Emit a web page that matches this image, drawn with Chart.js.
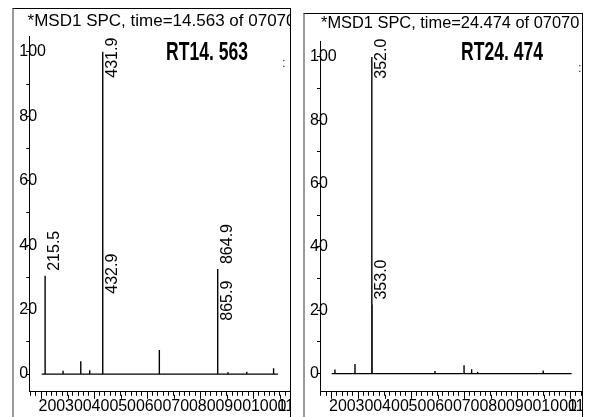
<!DOCTYPE html>
<html>
<head>
<meta charset="utf-8">
<script src="https://cdn.jsdelivr.net/npm/chart.js@4.4.0/dist/chart.umd.min.js"></script>
<style>
html, body { margin: 0; padding: 0; background: #fff; }
body { width: 594px; height: 417px; position: relative; overflow: hidden; font-family: "Liberation Sans", Arial, sans-serif; }
.panel { position: absolute; box-sizing: border-box; border-top: 1px solid #000; border-right: 1px solid #000; border-left: 2px solid #9a9a9a; overflow: hidden; background: #fff; height: 430px; }
.panel canvas { position: absolute; left: 0; top: 0; }
.ttl { position: absolute; white-space: nowrap; font-size: 17px; line-height: 17px; color: #000; }
.rt { position: absolute; white-space: nowrap; font-family: "Liberation Sans", Arial, sans-serif; font-weight: bold; font-size: 26px; line-height: 26px; transform: scaleX(0.675); transform-origin: 0 0; color: #000; }
.dots { position: absolute; font-size: 13px; line-height: 13px; color: #333; }
</style>
</head>
<body>
<div class="panel" style="left:12px; top:8px; width:279px;">
  <canvas id="cL" width="276" height="408"></canvas>
  <div class="ttl" style="left:13.6px; top:2.5px;">*MSD1 SPC, time=14.563 of 07070</div>
  <div class="rt" style="left:151.8px; top:29.3px;">RT14. 563</div>
  <div class="dots" style="left:268px; top:47px;">:</div>
</div>
<div class="panel" style="left:303px; top:13px; width:280px;">
  <canvas id="cR" width="277" height="403"></canvas>
  <div class="ttl" style="left:16px; top:0px; font-size:16.4px;">*MSD1 SPC, time=24.474 of 07070</div>
  <div class="rt" style="left:155.5px; top:24.3px;">RT24. 474</div>
  <div class="dots" style="left:273px; top:47px;">:</div>
</div>
<script>
// left spectrum, RT 14.563
const leftMz     = [215.5, 283.0, 349.8, 383.5, 431.9, 432.9, 645.7, 864.9, 865.9, 904.0, 975.0, 1076.0];
const leftInt    = [30.5, 1.0, 4.0, 1.2, 100, 23.4, 7.5, 32.6, 15.0, 0.6, 0.7, 1.8];
const leftRange  = [202.5, 1092.5];
const leftLabels = [215.5, 431.9, 432.9, 864.9, 865.9];

// right spectrum, RT 24.474
const rightMz     = [213.0, 288.5, 352.0, 353.0, 589.8, 699.4, 728.0, 750.7, 997.7];
const rightInt    = [1.3, 3.0, 100, 21.8, 0.8, 2.6, 1.4, 0.6, 1.0];
const rightRange  = [200.7, 1104.7];
const rightLabels = [352.0, 353.0];

const xTickLabels = [200, 300, 400, 500, 600, 700, 800, 900, 1000, 1100];
const yTickLabels = [0, 20, 40, 60, 80, 100];

const FONT = '"Liberation Sans", Arial, sans-serif';

function stickLine(range, mz, inten) {
  const pts = [{x: range[0], y: 0}];
  mz.forEach((m, i) => {
    pts.push({x: m, y: 0}, {x: m, y: inten[i]}, {x: m, y: 0});
  });
  pts.push({x: range[1], y: 0});
  return pts;
}

const peakLabels = {
  id: 'peakLabels',
  afterDatasetsDraw(chart, args, opts) {
    const {ctx, chartArea, scales: {x, y}} = chart;
    ctx.save();
    ctx.font = '16px ' + FONT;
    ctx.fillStyle = '#000';
    ctx.textAlign = 'left';
    ctx.textBaseline = 'alphabetic';
    opts.labels.forEach(m => {
      const h = opts.inten[opts.mz.indexOf(m)];
      const txt = m.toFixed(1);
      const w = ctx.measureText(txt).width;
      const px = x.getPixelForValue(m);
      let py = y.getPixelForValue(h) - 5;
      py = Math.max(py, chartArea.top + opts.clip + w);
      ctx.save();
      ctx.translate(px + 14, py);
      ctx.rotate(-Math.PI / 2);
      ctx.fillText(txt, 0, 0);
      ctx.restore();
    });
    // longer marks for the labelled x ticks
    ctx.strokeStyle = '#000';
    ctx.lineWidth = 1;
    xTickLabels.forEach(v => {
      const px = Math.round(x.getPixelForValue(v)) + 0.5;
      ctx.beginPath();
      ctx.moveTo(px, x.top + 3);
      ctx.lineTo(px, x.top + 7);
      ctx.stroke();
    });
    ctx.restore();
  }
};

function makeChart(id, range, mz, inten, labels, xr, yr, padLeft, clip) {
  return new Chart(document.getElementById(id), {
    type: 'scatter',
    data: {
      datasets: [{
        data: stickLine(range, mz, inten),
        showLine: true,
        borderColor: '#000',
        borderWidth: 1.4,
        pointRadius: 0,
        tension: 0
      }]
    },
    plugins: [peakLabels],
    options: {
      responsive: false,
      animation: false,
      devicePixelRatio: 1,
      layout: { padding: { left: padLeft, top: 27.7, right: 0, bottom: 0 } },
      plugins: {
        legend: { display: false },
        tooltip: { enabled: false },
        peakLabels: { mz: mz, inten: inten, labels: labels, clip: clip }
      },
      scales: {
        x: {
          type: 'linear',
          min: xr[0], max: xr[1],
          border: { display: true, color: '#000', width: 1 },
          grid: { display: true, drawOnChartArea: false, drawTicks: true, tickLength: 4, color: '#000', tickColor: '#000' },
          ticks: {
            stepSize: 20,
            includeBounds: false,
            autoSkip: false,
            maxRotation: 0,
            minRotation: 0,
            align: 'start',
            labelOffset: -2.5,
            padding: 1,
            color: '#000',
            font: { family: FONT, size: 16 },
            callback: v => xTickLabels.includes(v) ? String(v) : ''
          }
        },
        y: {
          type: 'linear',
          min: yr[0], max: yr[1],
          border: { display: true, color: '#000', width: 1 },
          grid: { display: true, drawOnChartArea: false, drawTicks: true, tickLength: 3, color: '#000', tickColor: '#000' },
          afterFit: s => { s.width = 3; },
          ticks: {
            stepSize: 10,
            includeBounds: false,
            autoSkip: false,
            mirror: true,
            padding: -10,
            color: '#000',
            font: { family: FONT, size: 16 },
            callback: v => yTickLabels.includes(v) ? String(v) : ''
          }
        }
      }
    }
  });
}

makeChart('cL', leftRange, leftMz, leftInt, leftLabels, [155.9, 1137.8], [-5.5, 104.7], 12.3, 1);
makeChart('cR', rightRange, rightMz, rightInt, rightLabels, [156.7, 1143.5], [-5.75, 104.8], 12, -3);
</script>
</body>
</html>
